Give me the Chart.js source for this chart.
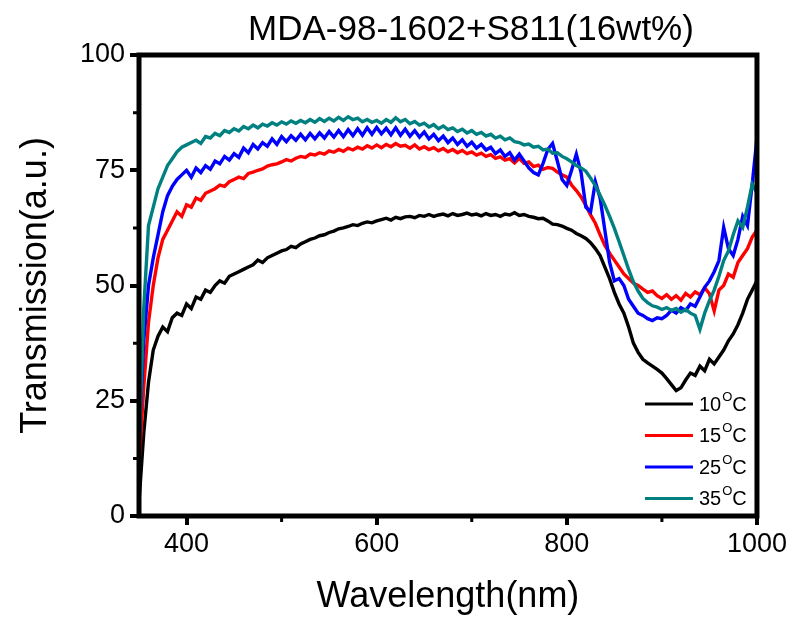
<!DOCTYPE html>
<html>
<head>
<meta charset="utf-8">
<script src="https://cdn.jsdelivr.net/npm/chart.js@4.4.1/dist/chart.umd.min.js"></script>
<style>
  html, body { margin: 0; padding: 0; background: #fff; }
  #wrap { width: 790px; height: 617px; }
</style>
</head>
<body>
<div id="wrap"><canvas id="chart" width="790" height="617"></canvas></div>
<script>
// === DATOS ===
const chartTitle = "MDA-98-1602+S811(16wt%)";
const xTitle = "Wavelength(nm)";
const yTitle = "Transmission(a.u.)";

const xTicks = [400, 600, 800, 1000];
const xMinorTicks = [500, 700, 900];
const yMinorTicks = [12.5, 37.5, 62.5, 87.5];

const temps = ["10", "15", "25", "35"];
const colores = ["#000000", "#ff0000", "#0000ff", "#008080"];

const wavelength = [
  350, 355, 360, 365, 370, 375, 380, 385, 390, 395,
  400, 405, 410, 415, 420, 425, 430, 435, 440, 445, 450, 455, 460, 465, 470, 475, 480, 485, 490, 495,
  500, 505, 510, 515, 520, 525, 530, 535, 540, 545, 550, 555, 560, 565, 570, 575, 580, 585, 590, 595,
  600, 605, 610, 615, 620, 625, 630, 635, 640, 645, 650, 655, 660, 665, 670, 675, 680, 685, 690, 695,
  700, 705, 710, 715, 720, 725, 730, 735, 740, 745, 750, 755, 760, 765, 770, 775, 780, 785, 790, 795,
  800, 805, 810, 815, 820, 825, 830, 835, 840, 845, 850, 855, 860, 865, 870, 875, 880, 885, 890, 895,
  900, 905, 910, 915, 920, 925, 930, 935, 940, 945, 950, 955, 960, 965, 970, 975, 980, 985, 990, 995,
  1000
];

const t10 = [
  3, 18, 29, 36, 39, 41, 40, 43, 44, 43.5,
  46, 45, 47.5, 47, 49, 48.5, 50, 51, 50.5, 52, 52.5, 53, 53.5, 54, 54.5, 55.5, 55, 56, 56.5, 57,
  57.5, 57.8, 58.5, 58.2, 59, 59.5, 60, 60.3, 60.8, 61, 61.5, 61.8, 62.3, 62.5, 62.8, 63.2, 63, 63.5, 63.8, 63.6,
  64, 64.3, 64.6, 64.2, 64.8, 64.5, 64.9, 65, 64.7, 65.2, 65, 65.4, 65, 65.3, 65.5, 65.1, 65.6, 65.2, 65.4, 65.7,
  65.3, 65.5, 65.1, 65.6, 65.2, 65.4, 65, 65.5, 65.3, 65.8, 65.2, 65.4, 65, 64.8, 64.5, 64.6, 64, 63.3, 63.2, 62.9,
  62.4, 62, 61.3, 60.8, 60.2, 59.3, 58, 56.5, 54, 51.5, 48.5, 46, 44, 41, 37.5, 35.5, 34, 33.2, 32.5, 31.8,
  31, 29.8, 28.5, 27.2, 27.8, 29.5, 31, 30.5, 32.5, 31.5, 34, 33, 34.5, 36, 38, 39.5, 41.5, 44, 47, 49,
  51
];

const t15 = [
  11, 28, 42, 50, 56, 60, 62, 64, 66, 65,
  67.5, 67, 69, 68.5, 70, 70.5, 71, 71.8, 71.5, 72.5, 73, 73.5, 73.2, 74.3, 74.6, 75, 75.3, 75.9, 76.2, 76.4,
  76.8, 77.3, 77, 77.6, 78, 77.8, 78.5, 78.3, 78.8, 78.5, 79.2, 78.9, 79.5, 79.1, 79.8, 79.4, 80, 79.6, 80.3, 79.8,
  80.5, 79.9, 80.6, 80.1, 80.8, 80.2, 80.4, 79.8, 80.5, 79.6, 80.1, 79.5, 79.9, 79.2, 79.7, 79, 79.5, 78.8, 79.3, 78.6,
  79, 78.3, 78.7, 78, 78.4, 77.6, 77.9, 77.2, 77.5, 76.6, 77.6, 76.5, 76.8, 75.8, 76.1, 75.2, 75.6, 75.4, 74.6, 74,
  73.5, 71.8, 70.6, 69.2, 67.4, 65.3, 63.5, 61, 58.7, 57, 55.5, 54, 52.5, 51.5, 50.5, 50, 49.2, 48.5, 48.8, 47.8,
  47.2, 48, 47, 47.8, 46.8, 48.3, 47.5, 48.6, 48, 49.5, 48.2, 44.5, 49, 50, 52.5, 51.8, 55, 56.5, 58, 60.5,
  62
];

const t25 = [
  16, 38, 50, 56, 61, 66, 69.5, 71.5, 73, 74,
  75, 73.5, 75.5, 74.5, 76, 75.2, 77, 76.4, 78, 77.2, 78.6, 77.8, 79.8, 78.8, 80.6, 79.6, 81, 80.2, 81.8, 80.6,
  82.3, 81.2, 82.5, 81.5, 82.8, 81.6, 83, 81.8, 83.1, 82, 83.4, 82.2, 83.6, 82.3, 83.8, 82.5, 84, 82.6, 84.2, 82.8,
  84.3, 82.9, 84.1, 82.7, 84.2, 82.6, 83.9, 82.4, 83.6, 82.2, 83.3, 81.8, 82.8, 81.4, 82.4, 81, 82, 80.6, 81.6, 80.2,
  81.1, 79.8, 80.6, 79.4, 80, 78.6, 79.4, 78, 78.8, 77.2, 78.5, 77, 75.5, 74.5, 74, 76.5, 79.5, 80.8, 77, 73,
  71.7, 75, 78.5, 74.5, 67, 66, 72.5, 69, 62, 55, 51, 51.5, 50, 47, 45.5, 44, 43.5, 42.8, 42.4, 43,
  42.8, 43.5, 44.6, 44, 45.2, 44.6, 46, 45.5, 47.5, 49.6, 51, 53, 55.4, 62.6, 58, 56.5, 60, 65, 63, 72,
  82
];

const t35 = [
  14, 45, 63, 67, 71, 73.5, 76, 77.5, 79, 80,
  80.5, 81, 81.5, 80.8, 82.3, 82, 83, 82.5, 83.6, 83.2, 84, 83.5, 84.5, 84, 84.8, 84.2, 85, 84.6, 85.3, 84.8,
  85.5, 85, 85.7, 85.2, 85.8, 85.3, 86, 85.4, 86.2, 85.6, 86.3, 85.7, 86.5, 85.8, 86.6, 86, 86.3, 85.5, 86, 85.4,
  85.8, 85.2, 86, 85.4, 86.4, 85.5, 86, 85.1, 85.6, 84.8, 85.2, 84.4, 84.9, 84, 84.6, 83.8, 84.2, 83.4, 83.9, 83.1,
  83.6, 82.8, 83.2, 82.4, 82.8, 82, 82.4, 81.6, 82, 81.2, 81, 80.5, 80.7, 80, 80.2, 79.4, 79.6, 78.7, 78.8, 78,
  77.5, 76.8, 76, 75.5, 74.8, 73.3, 71.7, 69.6, 67.4, 65, 62.4, 59.5, 56.5, 53.5, 50.8, 48.8, 47.2, 46.3, 45.6, 45.3,
  44.8, 45.2, 44.6, 45, 44.2, 44.8, 44, 43.5, 40.5, 44, 46.7, 49, 52, 55.4, 57.5, 61, 64, 62.6, 67, 72,
  70
];

const series = [t10, t15, t25, t35];

// === PLUGIN: marco, ticks menores, textos y leyenda ===
const decoracion = {
  id: "decoracion",
  afterDatasetsDraw(chart) {
    const ctx = chart.ctx;
    const a = chart.chartArea;
    const xs = chart.scales.x;
    const ys = chart.scales.y;
    const fuente = "'Liberation Sans', Arial, sans-serif";
    ctx.save();

    // marco
    ctx.strokeStyle = "#000";
    ctx.lineWidth = 5;
    ctx.strokeRect(a.left, a.top, a.right - a.left, a.bottom - a.top);

    // ticks menores
    ctx.lineWidth = 3;
    ctx.beginPath();
    xMinorTicks.forEach(v => {
      const px = xs.getPixelForValue(v);
      ctx.moveTo(px, a.bottom);
      ctx.lineTo(px, a.bottom + 6);
    });
    yMinorTicks.forEach(v => {
      const py = ys.getPixelForValue(v);
      ctx.moveTo(a.left, py);
      ctx.lineTo(a.left - 6, py);
    });
    ctx.stroke();

    ctx.fillStyle = "#000";
    ctx.textBaseline = "middle";

    // título
    ctx.font = "35px " + fuente;
    ctx.textAlign = "center";
    ctx.fillText(chartTitle, a.left + (a.right - a.left) / 2 + 23, 30);

    // títulos de ejes
    ctx.font = "36px " + fuente;
    ctx.fillText(xTitle, a.left + (a.right - a.left) / 2, 597);
    ctx.save();
    ctx.translate(36, a.top + (a.bottom - a.top) / 2);
    ctx.rotate(-Math.PI / 2);
    ctx.fillText(yTitle, 0, 0);
    ctx.restore();

    // leyenda
    const lx = a.right - 112;
    const ly = a.bottom - 112;
    const paso = 31.5;
    ctx.textAlign = "left";
    temps.forEach((t, i) => {
      const y = ly + i * paso;
      ctx.strokeStyle = colores[i];
      ctx.lineWidth = 3;
      ctx.beginPath();
      ctx.moveTo(lx, y);
      ctx.lineTo(lx + 48, y);
      ctx.stroke();
      ctx.font = "20px " + fuente;
      ctx.fillText(t, lx + 54, y + 1);
      const w = ctx.measureText(t).width;
      ctx.font = "13px " + fuente;
      ctx.fillText("O", lx + 54 + w + 1, y - 7);
      const wo = ctx.measureText("O").width;
      ctx.font = "20px " + fuente;
      ctx.fillText("C", lx + 54 + w + wo + 1, y + 1);
    });

    ctx.restore();
  }
};

// === GRÁFICO ===
const datasets = series.map((s, i) => ({
  label: temps[i] + "°C",
  data: wavelength.map((w, j) => ({ x: w, y: s[j] })),
  borderColor: colores[i],
  borderWidth: 3.4,
  pointRadius: 0,
  tension: 0,
  fill: false,
  order: series.length - i
}));

new Chart(document.getElementById("chart"), {
  type: "line",
  data: { datasets },
  plugins: [decoracion],
  options: {
    responsive: false,
    animation: false,
    layout: { padding: { left: 10, right: 33, top: 55, bottom: 10 } },
    plugins: {
      legend: { display: false },
      title: { display: false },
      tooltip: { enabled: false }
    },
    scales: {
      x: {
        type: "linear",
        min: 350,
        max: 1000,
        afterBuildTicks: scale => { scale.ticks = xTicks.map(v => ({ value: v })); },
        afterFit: scale => { scale.height = 91; },
        border: { display: false },
        grid: { drawOnChartArea: false, drawTicks: true, tickLength: 9, lineWidth: 4, color: "#000" },
        ticks: {
          color: "#000",
          padding: 3,
          maxRotation: 0,
          callback: v => String(v),
          font: { family: "'Liberation Sans', Arial, sans-serif", size: 27 }
        }
      },
      y: {
        min: 0,
        max: 100,
        afterFit: scale => { scale.width = 129; },
        border: { display: false },
        grid: { drawOnChartArea: false, drawTicks: true, tickLength: 9, lineWidth: 4, color: "#000" },
        ticks: {
          stepSize: 25,
          color: "#000",
          padding: 5,
          callback: v => String(v),
          font: { family: "'Liberation Sans', Arial, sans-serif", size: 27 }
        }
      }
    }
  }
});
</script>
</body>
</html>
